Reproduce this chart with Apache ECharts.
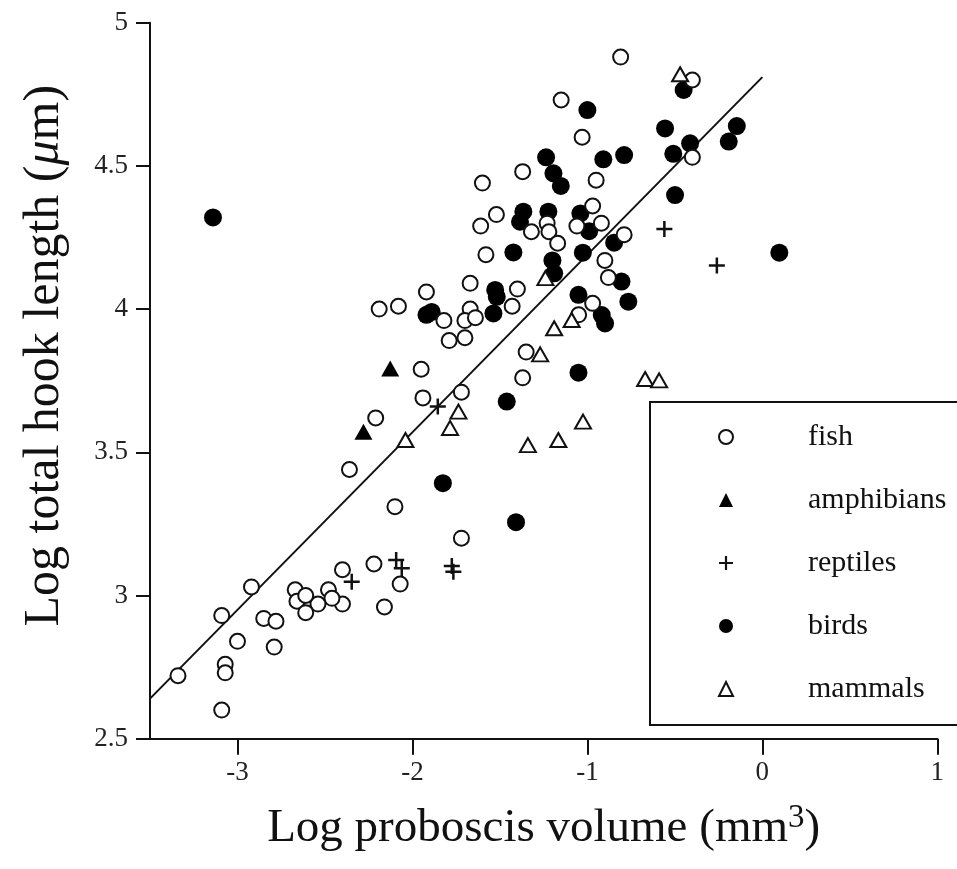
<!DOCTYPE html>
<html>
<head>
<meta charset="utf-8">
<script src="https://cdn.jsdelivr.net/npm/echarts@6/dist/echarts.min.js"></script>
<style>
html,body{margin:0;padding:0;background:#fff;}
#chart{width:957px;height:869px;}
</style>
</head>
<body>
<div id="chart"></div>
<script>
// ---- data ----
const xTicks = [-3, -2, -1, 0, 1];
const yTicks = [2.5, 3, 3.5, 4, 4.5, 5];
const legendNames = ['fish', 'amphibians', 'reptiles', 'birds', 'mammals'];

const fish = [
  [-0.81,4.88],[-0.40,4.80],[-1.15,4.73],[-1.03,4.60],[-0.40,4.53],[-1.37,4.48],[-1.60,4.44],
  [-0.95,4.45],[-0.97,4.36],[-0.92,4.30],[-1.52,4.33],[-1.61,4.29],[-1.06,4.29],[-1.23,4.30],
  [-1.32,4.27],[-1.22,4.27],[-1.17,4.23],[-0.79,4.26],[-1.58,4.19],[-0.90,4.17],[-0.88,4.11],
  [-1.67,4.09],[-1.40,4.07],[-1.43,4.01],[-1.92,4.06],[-2.19,4.00],[-2.08,4.01],[-1.82,3.96],
  [-1.67,4.00],[-1.70,3.96],[-1.64,3.97],[-1.79,3.89],[-1.70,3.90],[-1.05,3.98],[-0.97,4.02],
  [-1.35,3.85],[-1.37,3.76],[-1.95,3.79],[-1.94,3.69],[-2.21,3.62],[-1.72,3.71],[-2.36,3.44],
  [-2.10,3.31],[-1.72,3.20],[-2.22,3.11],[-2.07,3.04],[-2.16,2.96],[-2.40,3.09],[-2.40,2.97],
  [-2.48,3.02],[-2.46,2.99],[-2.54,2.97],[-2.67,3.02],[-2.66,2.98],[-2.61,3.00],[-2.61,2.94],
  [-2.92,3.03],[-3.09,2.93],[-3.00,2.84],[-2.85,2.92],[-2.78,2.91],[-2.79,2.82],[-3.07,2.76],
  [-3.07,2.73],[-3.34,2.72],[-3.09,2.60]
];
const amphibians = [[-2.127,3.793],[-2.28,3.572]];
const reptiles = [
  [-0.56,4.28],[-0.26,4.152],[-1.855,3.66],[-2.347,3.048],[-2.093,3.124],[-2.061,3.095],
  [-1.775,3.103],[-1.766,3.083]
];
const birds = [
  [-3.14,4.32],[-0.45,4.765],[-1.00,4.695],[-0.556,4.631],[-0.146,4.639],[-0.192,4.585],
  [-0.413,4.579],[-0.509,4.542],[-1.236,4.530],[-1.194,4.474],[-1.152,4.430],[-0.909,4.523],
  [-0.790,4.538],[-0.499,4.398],[-1.04,4.334],[-0.99,4.272],[-1.366,4.340],[-1.385,4.305],
  [-1.223,4.340],[-0.847,4.232],[-1.423,4.198],[-1.026,4.197],[-1.20,4.17],[-1.19,4.125],
  [-0.805,4.096],[-0.766,4.026],[-1.051,4.05],[-1.527,4.067],[-1.518,4.043],[-1.537,3.985],
  [-1.92,3.98],[-1.89,3.99],[-0.918,3.979],[-0.899,3.950],[-1.051,3.778],[-1.461,3.677],
  [-1.826,3.392],[-1.408,3.256],[0.097,4.197]
];
const mammals = [
  [-0.47,4.82],[-1.24,4.108],[-1.09,3.962],[-1.19,3.933],[-1.27,3.842],[-0.67,3.756],
  [-0.59,3.751],[-1.025,3.607],[-1.166,3.543],[-1.34,3.525],[-2.04,3.543],[-1.737,3.642],
  [-1.785,3.585]
];
const fitX = [-3.5, 0];
const fitY = [2.64, 4.81];

// ---- chart ----
const FONT = 'Liberation Serif';
const plusPath = 'path://M6.75,0h2.5v6.75h6.75v2.5h-6.75v6.75h-2.5v-6.75h-6.75v-2.5h6.75z';
const chart = echarts.init(document.getElementById('chart'), null, {renderer: 'canvas'});

const lineStyleAxis = {color: '#111', width: 2};
const labelStyle = {color: '#222', fontFamily: FONT, fontSize: 27};

chart.setOption({
  animation: false,
  backgroundColor: '#fff',
  grid: {left: 150, right: 19.7, top: 22.7, bottom: 130.3, containLabel: false},
  xAxis: {
    type: 'value', min: -3.5, max: 1,
    axisLine: {show: true, onZero: false, lineStyle: lineStyleAxis},
    axisTick: {show: true, inside: false, length: 16, lineStyle: lineStyleAxis, customValues: xTicks},
    axisLabel: Object.assign({}, labelStyle, {margin: 21, customValues: xTicks}),
    splitLine: {show: false},
    name: 'Log proboscis volume (mm{sup|3})',
    nameLocation: 'middle', nameGap: 63,
    nameTextStyle: {
      fontFamily: FONT, fontSize: 47, color: '#111', lineHeight: 54,
      rich: {sup: {fontFamily: FONT, fontSize: 33, color: '#111', lineHeight: 40, verticalAlign: 'top'}}
    }
  },
  yAxis: {
    type: 'value', min: 2.5, max: 5, interval: 0.5,
    axisLine: {show: true, onZero: false, lineStyle: lineStyleAxis},
    axisTick: {show: true, inside: false, length: 14, lineStyle: lineStyleAxis},
    axisLabel: Object.assign({}, labelStyle, {margin: 22}),
    splitLine: {show: false},
    name: 'Log total hook length ({i|μ}m)',
    nameLocation: 'middle', nameGap: 80, nameRotate: 90,
    nameTextStyle: {
      fontFamily: FONT, fontSize: 50, color: '#111',
      padding: [0, 0, 0, 50],
      rich: {i: {fontFamily: FONT, fontSize: 50, fontStyle: 'italic', color: '#111'}}
    }
  },
  legend: {
    orient: 'vertical', left: 650, top: 402,
    data: legendNames,
    itemWidth: 14, itemHeight: 14, itemGap: 33,
    padding: [20, 200, 21, 68],
    borderColor: '#111', borderWidth: 2,
    selectedMode: false,
    textStyle: {fontFamily: FONT, fontSize: 30, color: '#111', lineHeight: 30, padding: [0, 0, 0, 70]}
  },
  series: [
    {
      type: 'line', name: 'fit', data: fitX.map((x, i) => [x, fitY[i]]),
      showSymbol: false, symbol: 'none', silent: true,
      lineStyle: {color: '#111', width: 2}, z: 1
    },
    {
      type: 'scatter', name: 'birds', data: birds, symbol: 'circle', symbolSize: 18,
      itemStyle: {color: '#000', opacity: 1}, silent: true, z: 2
    },
    {
      type: 'scatter', name: 'fish', data: fish, symbol: 'circle', symbolSize: 15,
      itemStyle: {color: '#fff', borderColor: '#111', borderWidth: 2, opacity: 1}, silent: true, z: 3
    },
    {
      type: 'scatter', name: 'mammals', data: mammals, symbol: 'triangle', symbolSize: [16, 14],
      itemStyle: {color: '#fff', borderColor: '#111', borderWidth: 2, opacity: 1}, silent: true, z: 4
    },
    {
      type: 'scatter', name: 'amphibians', data: amphibians, symbol: 'triangle', symbolSize: [18, 16],
      itemStyle: {color: '#000', opacity: 1}, silent: true, z: 5
    },
    {
      type: 'scatter', name: 'reptiles', data: reptiles, symbol: plusPath, symbolSize: 16,
      itemStyle: {color: '#111', opacity: 1}, silent: true, z: 6
    }
  ]
});
</script>
</body>
</html>
